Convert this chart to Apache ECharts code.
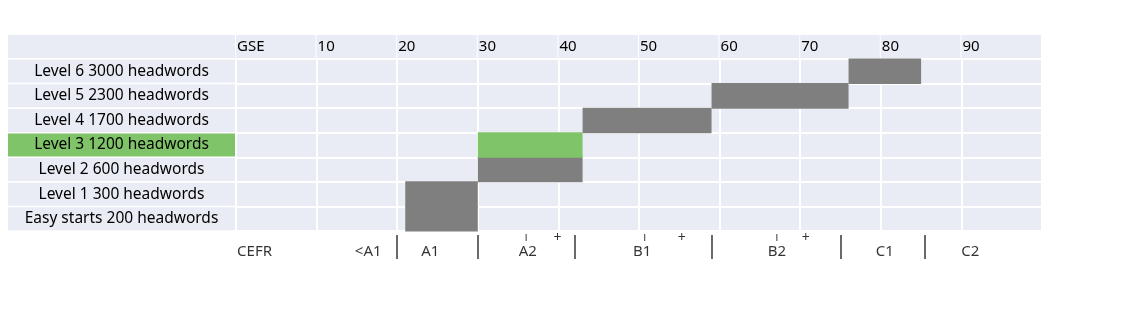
<!DOCTYPE html>
<html>
<head>
<meta charset="utf-8">
<script src="https://cdn.jsdelivr.net/npm/echarts@6/dist/echarts.min.js"></script>
<style>
    html, body { margin: 0; padding: 0; background: #fff; }
    #chart { width: 1134px; height: 323px; }
</style>
</head>
<body>
<div id="chart"></div>
<script>
    // rows, listed bottom to top (category axis starts at the bottom)
    var levels = ['Easy starts 200 headwords', 'Level 1 300 headwords', 'Level 2 600 headwords',
        'Level 3 1200 headwords', 'Level 4 1700 headwords', 'Level 5 2300 headwords', 'Level 6 3000 headwords'];
    var gseStart = [21, 21, 30, 30, 43, 59, 76];
    var gseEnd = [30, 30, 43, 43, 59, 76, 85];
    var highlight = 'Level 3 1200 headwords';

    // CEFR row under the table (positions on the GSE scale)
    var cefrNames = ['CEFR', '<A1', 'A1', 'A2', 'B1', 'B2', 'C1', 'C2'];
    var cefrNamePos = [2.3, 16.4, 24.1, 36.2, 50.4, 67.1, 80.5, 91.1];
    var cefrBounds = [20, 30, 42, 59, 75, 85.4];
    var cefrMidTicks = [36.0, 50.7, 67.1];
    var cefrPlus = [39.9, 55.3, 70.7];

    var cellColor = '#E9ECF4';
    var barColor = '#7F7F7F';
    var greenColor = '#80C46A';
    var textColor = '#000';
    var font = 'Noto Sans';

    var chart = echarts.init(document.getElementById('chart'));

    //  bar data
    var barData = levels.map(function (name, i) {
        return {
            value: [gseStart[i], gseEnd[i], i],
            itemStyle: {color: name === highlight ? greenColor : barColor}
        };
    });

    var option = {
        animation: false,
        textStyle: {fontFamily: font},
        grid: [
            {left: 236, top: 59, width: 806, height: 172, show: true, backgroundColor: cellColor,
                borderWidth: 0, outerBoundsMode: 'none'},
            {left: 236, top: 235, width: 806, height: 24, outerBoundsMode: 'none'}
        ],
        graphic: [
            {type: 'rect', shape: {x: 8, y: 35, width: 227, height: 23}, style: {fill: cellColor}, z: -1}
        ],
        xAxis: [
            {
                gridIndex: 0,
                type: 'value',
                position: 'top',
                min: 0,
                max: 100,
                interval: 10,
                axisLine: {show: false},
                axisTick: {show: false},
                splitLine: {show: true, lineStyle: {color: '#fff', width: 2}},
                axisLabel: {
                    showMaxLabel: false,
                    margin: 1,
                    align: 'left',
                    verticalAlign: 'bottom',
                    formatter: function (v) {
                        return '{h|' + (v === 0 ? 'GSE' : v) + '}';
                    },
                    rich: {
                        h: {width: 78.6, height: 23, lineHeight: 23, align: 'left', padding: [0, 0, 0, 1],
                            backgroundColor: cellColor, color: textColor, fontSize: 15, fontFamily: font}
                    }
                }
            },
            {gridIndex: 1, type: 'value', min: 0, max: 100, show: false}
        ],
        yAxis: [
            {
                gridIndex: 0,
                type: 'category',
                data: levels,
                axisLine: {show: false},
                axisTick: {show: false},
                splitLine: {show: true, interval: 0, lineStyle: {color: '#fff', width: 2}},
                axisLabel: {
                    interval: 0,
                    margin: 1,
                    formatter: function (v) {
                        return (v === highlight ? '{g|' : '{a|') + v + '}';
                    },
                    rich: {
                        a: {width: 227, height: 23, lineHeight: 23, align: 'center', backgroundColor: cellColor,
                            color: textColor, fontSize: 15.5, fontFamily: font},
                        g: {width: 227, height: 23, lineHeight: 23, align: 'center', backgroundColor: greenColor,
                            color: textColor, fontSize: 15.5, fontFamily: font}
                    }
                }
            },
            {gridIndex: 1, type: 'value', min: 0, max: 24, inverse: true, show: false}
        ],
        series: [
            {
                type: 'custom',
                xAxisIndex: 0,
                yAxisIndex: 0,
                encode: {x: [0, 1], y: 2},
                renderItem: function (params, api) {
                    var row = api.value(2);
                    var p0 = api.coord([api.value(0), row]);
                    var p1 = api.coord([api.value(1), row]);
                    var h = api.size([0, 1])[1];
                    // small overlap so stacked rows merge without a seam
                    return {
                        type: 'rect',
                        shape: {x: p0[0], y: p0[1] - h / 2 - 0.5, width: p1[0] - p0[0], height: h + 1},
                        style: {fill: api.visual('color')}
                    };
                },
                data: barData
            },
            {
                type: 'scatter',
                xAxisIndex: 1,
                yAxisIndex: 1,
                symbolSize: 0,
                clip: false,
                silent: true,
                label: {
                    show: true,
                    position: 'inside',
                    formatter: '{b}',
                    color: textColor,
                    fontSize: 15,
                    fontFamily: font
                },
                data: cefrNames.map(function (n, i) {
                    return {name: n, value: [cefrNamePos[i], 16.5]};
                }),
                markLine: {
                    silent: true,
                    symbol: ['none', 'none'],
                    label: {show: false},
                    lineStyle: {color: '#444', width: 1.6, type: 'solid'},
                    data: cefrBounds.map(function (v) {
                        return {xAxis: v};
                    })
                }
            },
            {
                type: 'scatter',
                xAxisIndex: 1,
                yAxisIndex: 1,
                symbol: 'rect',
                symbolSize: [1.2, 7],
                clip: false,
                silent: true,
                itemStyle: {color: '#333'},
                data: cefrMidTicks.map(function (v) {
                    return [v, 2.5];
                })
            },
            {
                type: 'scatter',
                xAxisIndex: 1,
                yAxisIndex: 1,
                symbolSize: 0,
                clip: false,
                silent: true,
                label: {show: true, position: 'inside', formatter: '+', color: textColor, fontSize: 14, fontFamily: font},
                data: cefrPlus.map(function (v) {
                    return [v, 3.5];
                })
            }
        ]
    };

    option && chart.setOption(option);
</script>
</body>
</html>
